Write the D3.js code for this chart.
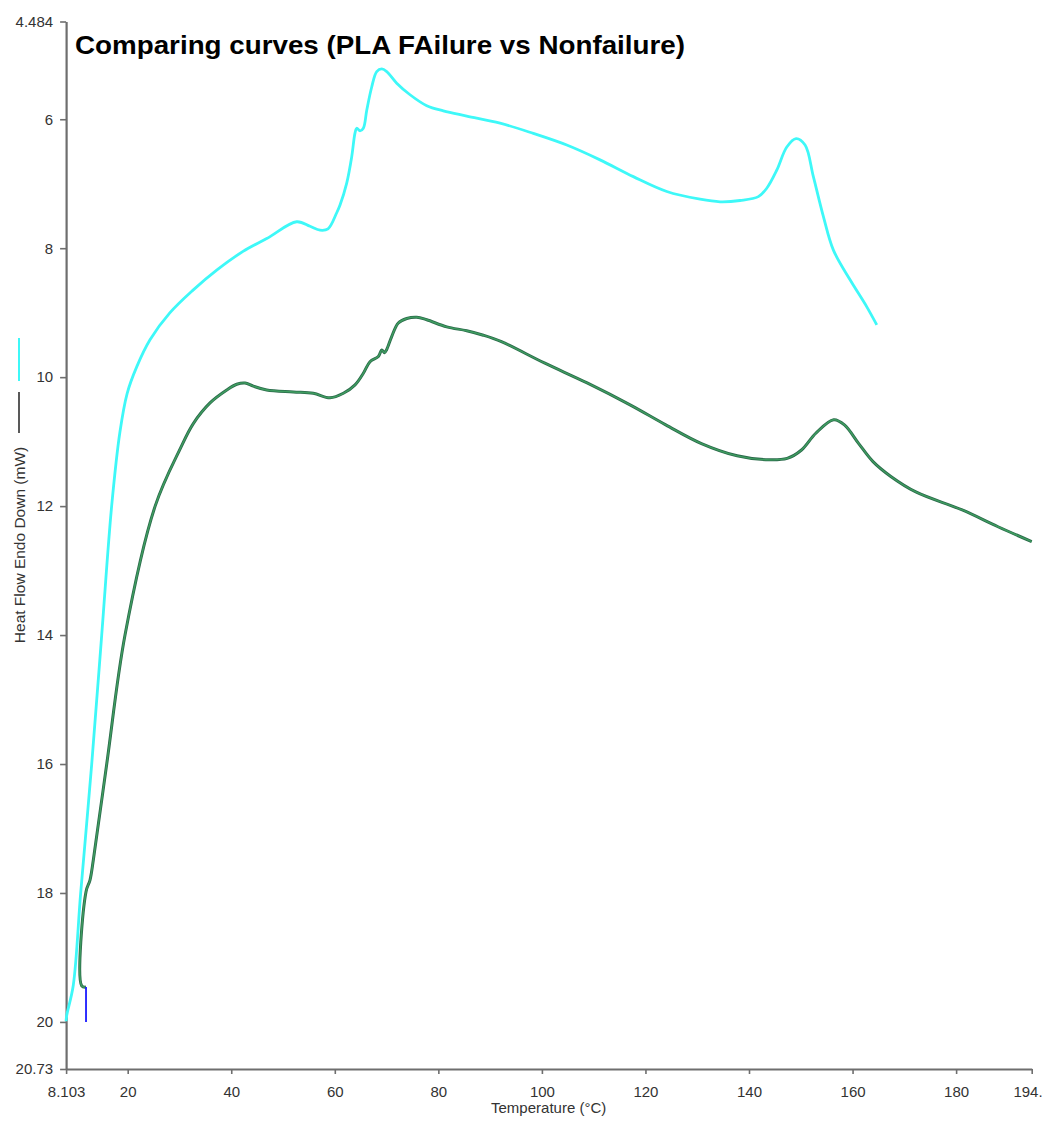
<!DOCTYPE html>
<html>
<head>
<meta charset="utf-8">
<script src="https://cdn.jsdelivr.net/npm/d3@7"></script>
<style>
  html, body { margin: 0; padding: 0; background: #fff; }
  svg { display: block; font-family: "Liberation Sans", Arial, sans-serif; }
</style>
</head>
<body>
<svg id="chart" width="1043" height="1122"></svg>
<script>
// ---- data ----
const chartTitle = "Comparing curves (PLA FAilure vs Nonfailure)";
const xTitle = "Temperature (°C)";
const yTitle = "Heat Flow Endo Down (mW)";

const xTicks = [8.103, 20, 40, 60, 80, 100, 120, 140, 160, 180, 194.6];
const xTickLabels = ["8.103", "20", "40", "60", "80", "100", "120", "140", "160", "180", "194.6"];
const yTicks = [4.484, 6, 8, 10, 12, 14, 16, 18, 20, 20.73];
const yTickLabels = ["4.484", "6", "8", "10", "12", "14", "16", "18", "20", "20.73"];

// Failure curve (cyan)
const failureTemp = [8.10, 8.22, 9.49, 10.92, 13.05, 14.98, 16.9, 18.5, 19.9, 21.74, 24.31, 28.17,
  32.62, 37.19, 42.27, 46.85, 52.65, 55.22, 57.15, 58.69, 60.37, 61.01, 62.30, 63.27, 63.91, 64.24,
  64.87, 65.51, 66.17, 67.13, 68.10, 69.07, 70.03, 71.96, 74.53, 77.76, 80.96, 85.48, 91.92, 98.35,
  104.80, 111.23, 117.66, 124.12, 130.55, 134.41, 138.27, 141.81, 143.43, 145.36, 147.30, 149.09,
  150.83, 152.43, 154.37, 156.30, 159.52, 162.75, 164.68];
const failureHeat = [19.99, 19.90, 19.43, 18.00, 16.00, 14.00, 12.00, 10.85, 10.25, 9.84, 9.42, 9.00,
  8.65, 8.34, 8.05, 7.85, 7.59, 7.66, 7.72, 7.70, 7.45, 7.33, 6.99, 6.58, 6.21, 6.14,
  6.18, 6.14, 5.86, 5.50, 5.26, 5.22, 5.26, 5.44, 5.62, 5.79, 5.87, 5.95, 6.06, 6.22,
  6.40, 6.63, 6.89, 7.12, 7.24, 7.28, 7.26, 7.20, 7.07, 6.79, 6.43, 6.30,
  6.40, 6.89, 7.51, 8.03, 8.49, 8.91, 9.19];

// Nonfailure curve (green)
const nonfailTemp = [11.95, 11.12, 11.95, 12.72, 13.36, 15.95, 19.48, 25.30, 30.2, 32.67, 35.90,
  39.13, 41.06, 42.66, 44.26, 46.85, 51.99, 55.85, 59.08, 61.65, 63.91, 65.51, 66.80, 68.41, 69.07,
  69.61, 70.03, 70.99, 72.27, 73.90, 75.83, 77.76, 81.62, 85.48, 88.69, 92.19, 100.47, 108.74,
  117.03, 123.92, 130.82, 137.71, 143.24, 147.37, 150.14, 152.90, 156.35, 158.43, 161.19, 163.95,
  167.39, 172.22, 181.18, 188.09, 194.6];
const nonfailHeat = [19.46, 19.44, 17.98, 17.80, 17.49, 16.00, 14.00, 12.00, 11.10, 10.72, 10.40,
  10.20, 10.11, 10.09, 10.14, 10.20, 10.23, 10.25, 10.32, 10.25, 10.12, 9.94, 9.76, 9.68, 9.58,
  9.62, 9.57, 9.37, 9.16, 9.09, 9.07, 9.11, 9.22, 9.28, 9.35, 9.45, 9.78, 10.09,
  10.43, 10.74, 11.03, 11.22, 11.28, 11.26, 11.13, 10.87, 10.66, 10.74, 11.03, 11.31,
  11.54, 11.78, 12.06, 12.32, 12.55];

// Short blue segment at the start
const blueTemp = [11.95, 11.95];
const blueHeat = [20.0, 19.46];

// ---- drawing ----
const svg = d3.select("#chart");
const x = d3.scaleLinear().domain([8.103, 194.6]).range([66.1, 1031.7]);
const y = d3.scaleLinear().domain([4.484, 20.73]).range([21.5, 1069]);

const axisColor = "#6e6e6e";
const textColor = "#333";

// Axes
const xAxis = d3.axisBottom(x).tickValues(xTicks)
  .tickFormat((d, i) => xTickLabels[i]).tickSize(5).tickSizeOuter(0);
const gx = svg.append("g").attr("transform", `translate(0,${y(20.73)})`).call(xAxis);

const yAxis = d3.axisLeft(y).tickValues(yTicks)
  .tickFormat((d, i) => yTickLabels[i]).tickSize(6).tickSizeOuter(0);
const gy = svg.append("g").attr("transform", `translate(${x(8.103)},0)`).call(yAxis);

[gx, gy].forEach(g => {
  g.select(".domain").attr("stroke", axisColor).attr("stroke-width", 2.2);
  g.selectAll(".tick line").attr("stroke", axisColor).attr("stroke-width", 1.6);
  g.selectAll(".tick text").attr("fill", textColor)
    .style("font-family", "'Liberation Sans', Arial, sans-serif").style("font-size", "15px");
});
gx.selectAll(".tick text").attr("dy", "0").attr("y", 28);
gy.selectAll(".tick text").attr("x", -13);

// Lines
const lineGen = (xs, ys) => d3.line()
  .x((d, i) => x(xs[i])).y((d, i) => y(ys[i]))
  .curve(d3.curveCatmullRom.alpha(0.5))(xs);

svg.append("path").attr("d", lineGen(failureTemp, failureHeat))
  .attr("fill", "none").attr("stroke", "#3ef8f8").attr("stroke-width", 2.8)
  .attr("stroke-linejoin", "round");

svg.append("path").attr("d", lineGen(nonfailTemp, nonfailHeat))
  .attr("fill", "none").attr("stroke", "#2b6a4b").attr("stroke-width", 3)
  .attr("stroke-linejoin", "round");
svg.append("path").attr("d", lineGen(nonfailTemp, nonfailHeat))
  .attr("fill", "none").attr("stroke", "#3f9d60").attr("stroke-width", 1.4)
  .attr("stroke-linejoin", "round");

svg.append("path").attr("d", d3.line().x((d, i) => x(blueTemp[i])).y((d, i) => y(blueHeat[i]))(blueTemp))
  .attr("fill", "none").attr("stroke", "#1a1aff").attr("stroke-width", 1.8);

// Title
svg.append("text").attr("x", 75).attr("y", 54)
  .style("font-size", "25px").style("font-weight", "bold").attr("fill", "#000")
  .attr("textLength", 610).attr("lengthAdjust", "spacingAndGlyphs")
  .text(chartTitle);

// Axis titles
svg.append("text").attr("x", x(101.3)).attr("y", 1113)
  .attr("text-anchor", "middle").style("font-size", "15px").attr("fill", textColor)
  .text(xTitle);

svg.append("text").attr("transform", "translate(25,545) rotate(-90)")
  .attr("text-anchor", "middle").style("font-size", "15.5px").attr("fill", textColor)
  .text(yTitle);

// Legend swatches beside the y title
svg.append("line").attr("x1", 19).attr("x2", 19).attr("y1", 338).attr("y2", 381)
  .attr("stroke", "#3ef8f8").attr("stroke-width", 2);
svg.append("line").attr("x1", 19).attr("x2", 19).attr("y1", 392).attr("y2", 433)
  .attr("stroke", "#222").attr("stroke-width", 1.5);
</script>
</body>
</html>
